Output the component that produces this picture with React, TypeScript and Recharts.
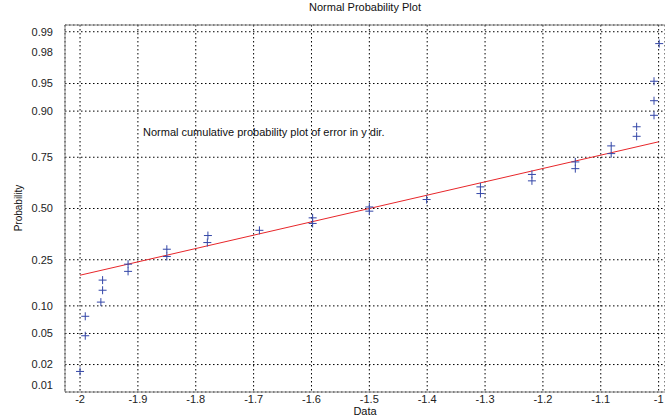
import { ScatterChart, Scatter, XAxis, YAxis, CartesianGrid, ReferenceLine } from "recharts";

// ── Data ─────────────────────────────────────────────────────────────────────

const dataX = [
    -2.0, -1.991, -1.991, -1.964, -1.961, -1.961, -1.917, -1.917,
    -1.85, -1.85, -1.78, -1.779, -1.69, -1.598, -1.598, -1.5,
    -1.5, -1.401, -1.308, -1.308, -1.219, -1.219, -1.144, -1.144,
    -1.082, -1.082, -1.038, -1.038, -1.008, -1.008, -1.008, -0.999,
];
const dataP = [
    0.016, 0.047, 0.078, 0.109, 0.141, 0.173, 0.204, 0.232,
    0.264, 0.296, 0.327, 0.361, 0.387, 0.422, 0.451, 0.486,
    0.508, 0.547, 0.578, 0.612, 0.642, 0.673, 0.7, 0.73,
    0.765, 0.795, 0.829, 0.859, 0.89, 0.922, 0.953, 0.985,
];
const fitX = [-2.0, -1.0];
const fitP = [0.19, 0.81];

const probTicks = [0.01, 0.02, 0.05, 0.1, 0.25, 0.5, 0.75, 0.9, 0.95, 0.98, 0.99];
const xTicks = [-2, -1.9, -1.8, -1.7, -1.6, -1.5, -1.4, -1.3, -1.2, -1.1, -1];

// ── Helpers ──────────────────────────────────────────────────────────────────

// inverse normal CDF (Acklam), turns the probability axis into a linear one
function probit(p: number): number {
    const a = [-39.69683028665376, 220.9460984245205, -275.9285104469687, 138.357751867269, -30.66479806614716, 2.506628277459239];
    const b = [-54.47609879822406, 161.5858368580409, -155.6989798598866, 66.80131188771972, -13.28068155288572];
    const c = [-0.007784894002430293, -0.3223964580411365, -2.400758277161838, -2.549732539343734, 4.374664141464968, 2.938163982698783];
    const d = [0.007784695709041462, 0.3224671290700398, 2.445134137142996, 3.754408661907416];
    const tail = (q: number) =>
        (((((c[0] * q + c[1]) * q + c[2]) * q + c[3]) * q + c[4]) * q + c[5]) /
        ((((d[0] * q + d[1]) * q + d[2]) * q + d[3]) * q + 1);
    if (p < 0.02425) return tail(Math.sqrt(-2 * Math.log(p)));
    if (p > 1 - 0.02425) return -tail(Math.sqrt(-2 * Math.log(1 - p)));
    const q = p - 0.5;
    const r = q * q;
    return (
        ((((((a[0] * r + a[1]) * r + a[2]) * r + a[3]) * r + a[4]) * r + a[5]) * q) /
        (((((b[0] * r + b[1]) * r + b[2]) * r + b[3]) * r + b[4]) * r + 1)
    );
}

const points = dataX.map((x, i) => ({ x, z: probit(dataP[i]) }));
const fit = fitX.map((x, i) => ({ x, z: probit(fitP[i]) }));
const zTicks = probTicks.map(probit);

const Z_MAX = 2.415;
const FONT = "'Liberation Sans', Arial, sans-serif";

function fmtProb(v: number): string {
    let best = 0;
    zTicks.forEach((z, i) => {
        if (Math.abs(z - v) < Math.abs(zTicks[best] - v)) best = i;
    });
    return probTicks[best].toFixed(2);
}

function Cross(props: any) {
    const { cx, cy } = props;
    if (cx == null || cy == null) return null;
    return (
        <g stroke="#3447a8" strokeWidth={1}>
            <line x1={cx - 4} y1={cy} x2={cx + 4} y2={cy} />
            <line x1={cx} y1={cy - 4} x2={cx} y2={cy + 4} />
        </g>
    );
}

// ── Chart ────────────────────────────────────────────────────────────────────

export default function App() {
    return (
        <div style={{ position: "fixed", left: 0, top: 0, width: 665, height: 419, background: "#fff", fontFamily: FONT }}>
            <ScatterChart width={665} height={419} margin={{ top: 25, right: 0, bottom: 0, left: 0 }}>
                <CartesianGrid stroke="#000" strokeDasharray="1.5 2.5" horizontal vertical />
                <XAxis
                    type="number"
                    dataKey="x"
                    domain={[-2.026, -0.989]}
                    ticks={xTicks}
                    height={27}
                    tickLine={false}
                    tickSize={1}
                    axisLine={{ stroke: "#808080" }}
                    tick={{ fill: "#222", fontSize: 11, fontFamily: FONT }}
                    tickMargin={2}
                    allowDataOverflow
                />
                <YAxis
                    type="number"
                    dataKey="z"
                    domain={[-Z_MAX, Z_MAX]}
                    ticks={zTicks}
                    width={65}
                    tickLine={false}
                    axisLine={{ stroke: "#808080" }}
                    tick={{ fill: "#222", fontSize: 11, fontFamily: FONT }}
                    tickFormatter={fmtProb}
                    tickMargin={6}
                    allowDataOverflow
                />
                <ReferenceLine y={Z_MAX} stroke="#808080" />
                <Scatter
                    data={fit}
                    line={{ stroke: "#e8262a", strokeWidth: 1 }}
                    shape={() => null}
                    isAnimationActive={false}
                />
                <Scatter data={points} shape={Cross} isAnimationActive={false} />
            </ScatterChart>

            <div style={{ position: "absolute", left: 65, width: 600, top: 1, textAlign: "center", fontSize: 11, color: "#111" }}>
                Normal Probability Plot
            </div>
            <div style={{ position: "absolute", left: 143, top: 126, fontSize: 11, color: "#111", whiteSpace: "nowrap" }}>
                Normal cumulative probability plot of error in y dir.
            </div>
            <div style={{ position: "absolute", left: 65, width: 600, top: 405, textAlign: "center", fontSize: 11, color: "#111" }}>
                Data
            </div>
            <div
                style={{
                    position: "absolute",
                    left: 18,
                    top: 208,
                    fontSize: 10,
                    color: "#111",
                    whiteSpace: "nowrap",
                    transform: "translate(-50%, -50%) rotate(-90deg)",
                }}
            >
                Probability
            </div>
        </div>
    );
}
